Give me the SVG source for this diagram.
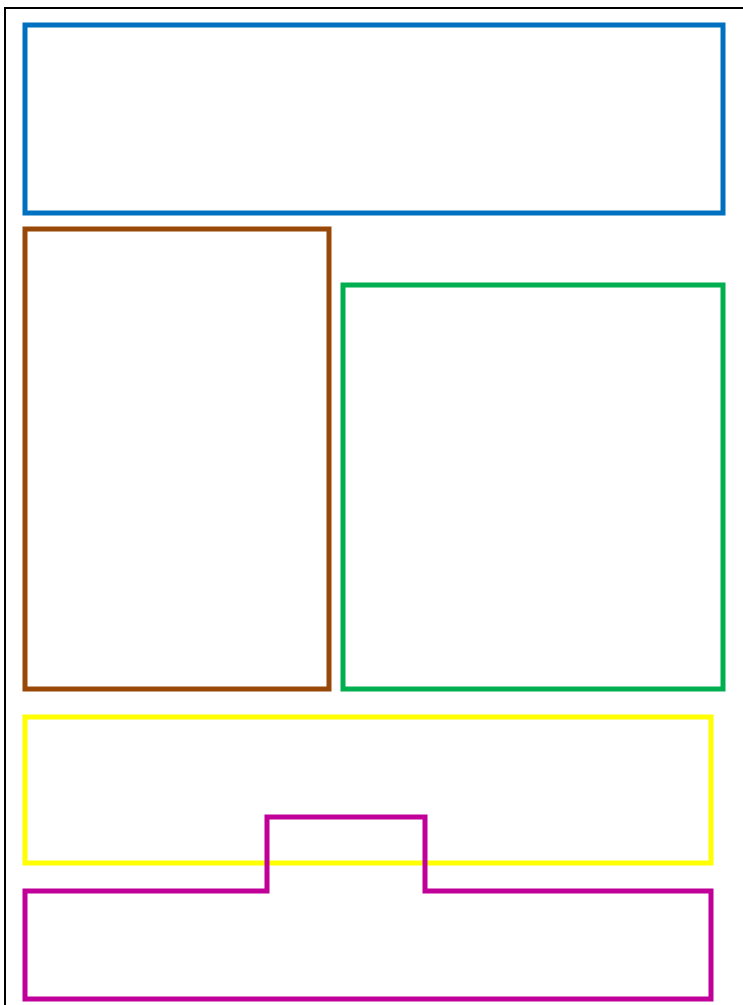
<svg xmlns="http://www.w3.org/2000/svg" width="743" height="1005" viewBox="0 0 743 1005">
<style>
.box{fill:none;stroke-width:5;stroke-linejoin:miter}
</style>
<rect x="0" y="0" width="743" height="1005" fill="#ffffff"/>
<g id="frame"><rect x="5" y="8" width="750" height="1010" fill="none" stroke="#000000" stroke-width="2"/></g>
<g id="blue"><rect class="box" x="25" y="25" width="698" height="188" stroke="#0070C0"/></g>
<g id="brown"><rect class="box" x="25" y="229" width="304" height="460" stroke="#984807"/></g>
<g id="green"><rect class="box" x="343" y="285" width="380" height="404" stroke="#00B050"/></g>
<g id="yellow"><rect class="box" x="25" y="717" width="686" height="146" stroke="#FFFF00"/></g>
<g id="magenta"><polygon class="box" points="25,891 267,891 267,817 425,817 425,891 711,891 711,999 25,999" stroke="#C00099"/></g>
<g id="connectors"></g>
</svg>
